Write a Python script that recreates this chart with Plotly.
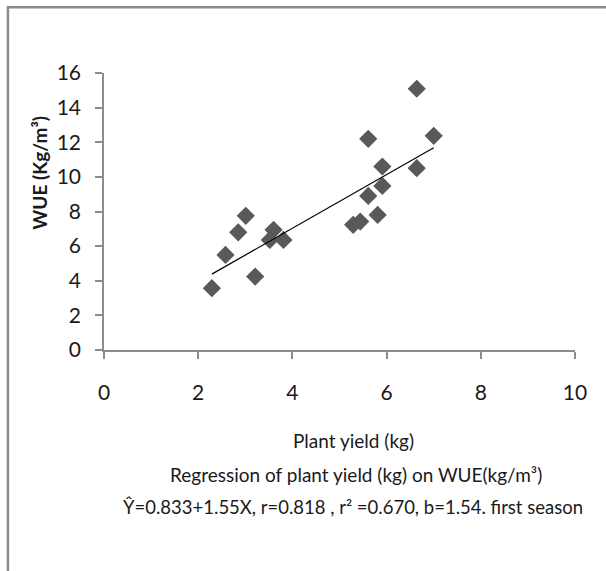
import plotly.graph_objects as go
import numpy as np

# Data
plant_yield = [2.29, 2.58, 2.85, 3.01, 3.21, 3.60, 3.52, 3.81, 5.29, 5.44,
               5.61, 5.61, 5.81, 5.91, 5.91, 6.64, 6.64, 7.00]
wue = [3.57, 5.49, 6.80, 7.75, 4.24, 6.94, 6.36, 6.36, 7.23, 7.42,
       8.90, 12.2, 7.80, 10.6, 9.48, 15.09, 10.5, 12.37]

# Regression coefficients stated on the chart
intercept = 0.833
slope = 1.55

x_ticks = [0, 2, 4, 6, 8, 10]
y_ticks = [0, 2, 4, 6, 8, 10, 12, 14, 16]

FONT = "Lato, sans-serif"

line_x = np.array([min(plant_yield), max(plant_yield)])
line_y = intercept + slope * line_x

fig = go.Figure()
fig.add_trace(go.Scatter(
    x=plant_yield, y=wue, mode="markers",
    marker=dict(symbol="diamond", size=14, color="#595959"),
    showlegend=False, hoverinfo="x+y"))
fig.add_trace(go.Scatter(
    x=line_x, y=line_y, mode="lines",
    line=dict(color="#000000", width=1.2),
    showlegend=False, hoverinfo="skip"))

axis_common = dict(
    showgrid=False, zeroline=False, showline=True, linecolor="#8c8c8c",
    linewidth=1.5, ticks="outside", ticklen=7, tickcolor="#8c8c8c",
    tickwidth=1.5, tickfont=dict(family=FONT, size=21, color="#1a1a1a"),
)

fig.update_xaxes(range=[0, 10], tickvals=x_ticks, ticklabelstandoff=16,
                 **axis_common)
fig.update_yaxes(range=[0, 16], tickvals=y_ticks, ticklabelstandoff=10,
                 **axis_common)

annots = [
    dict(text="<b>WUE (Kg/m³)</b>", x=-0.136, y=0.64, textangle=-90,
         font=dict(family=FONT, size=19, color="#1a1a1a")),
    dict(text="Plant yield (kg)", x=0.529, y=-0.325,
         font=dict(family=FONT, size=19, color="#1a1a1a")),
    dict(text="Regression of plant yield (kg) on WUE(kg/m³)", x=0.534, y=-0.451,
         font=dict(family=FONT, size=19, color="#1a1a1a")),
    dict(text="Ŷ=0.833+1.55X, r=0.818 , r² =0.670, b=1.54. first season", x=0.529, y=-0.567,
         font=dict(family=FONT, size=18.5, color="#1a1a1a")),
]
for a in annots:
    fig.add_annotation(xref="paper", yref="paper", showarrow=False,
                       xanchor="center", yanchor="middle", **a)

fig.add_shape(type="rect", xref="paper", yref="paper",
              x0=-0.204, x1=1.3, y0=-0.9, y1=1.237,
              line=dict(color="#8c8c8c", width=2.5), layer="below")

fig.update_layout(
    width=606, height=571,
    margin=dict(l=104, r=31, t=73, b=221),
    paper_bgcolor="white", plot_bgcolor="white",
    font=dict(family=FONT),
)

fig.write_html(
    "out.html",
    config={"displayModeBar": False},
    post_script="document.body.style.margin='0';document.body.style.overflow='hidden';",
)
